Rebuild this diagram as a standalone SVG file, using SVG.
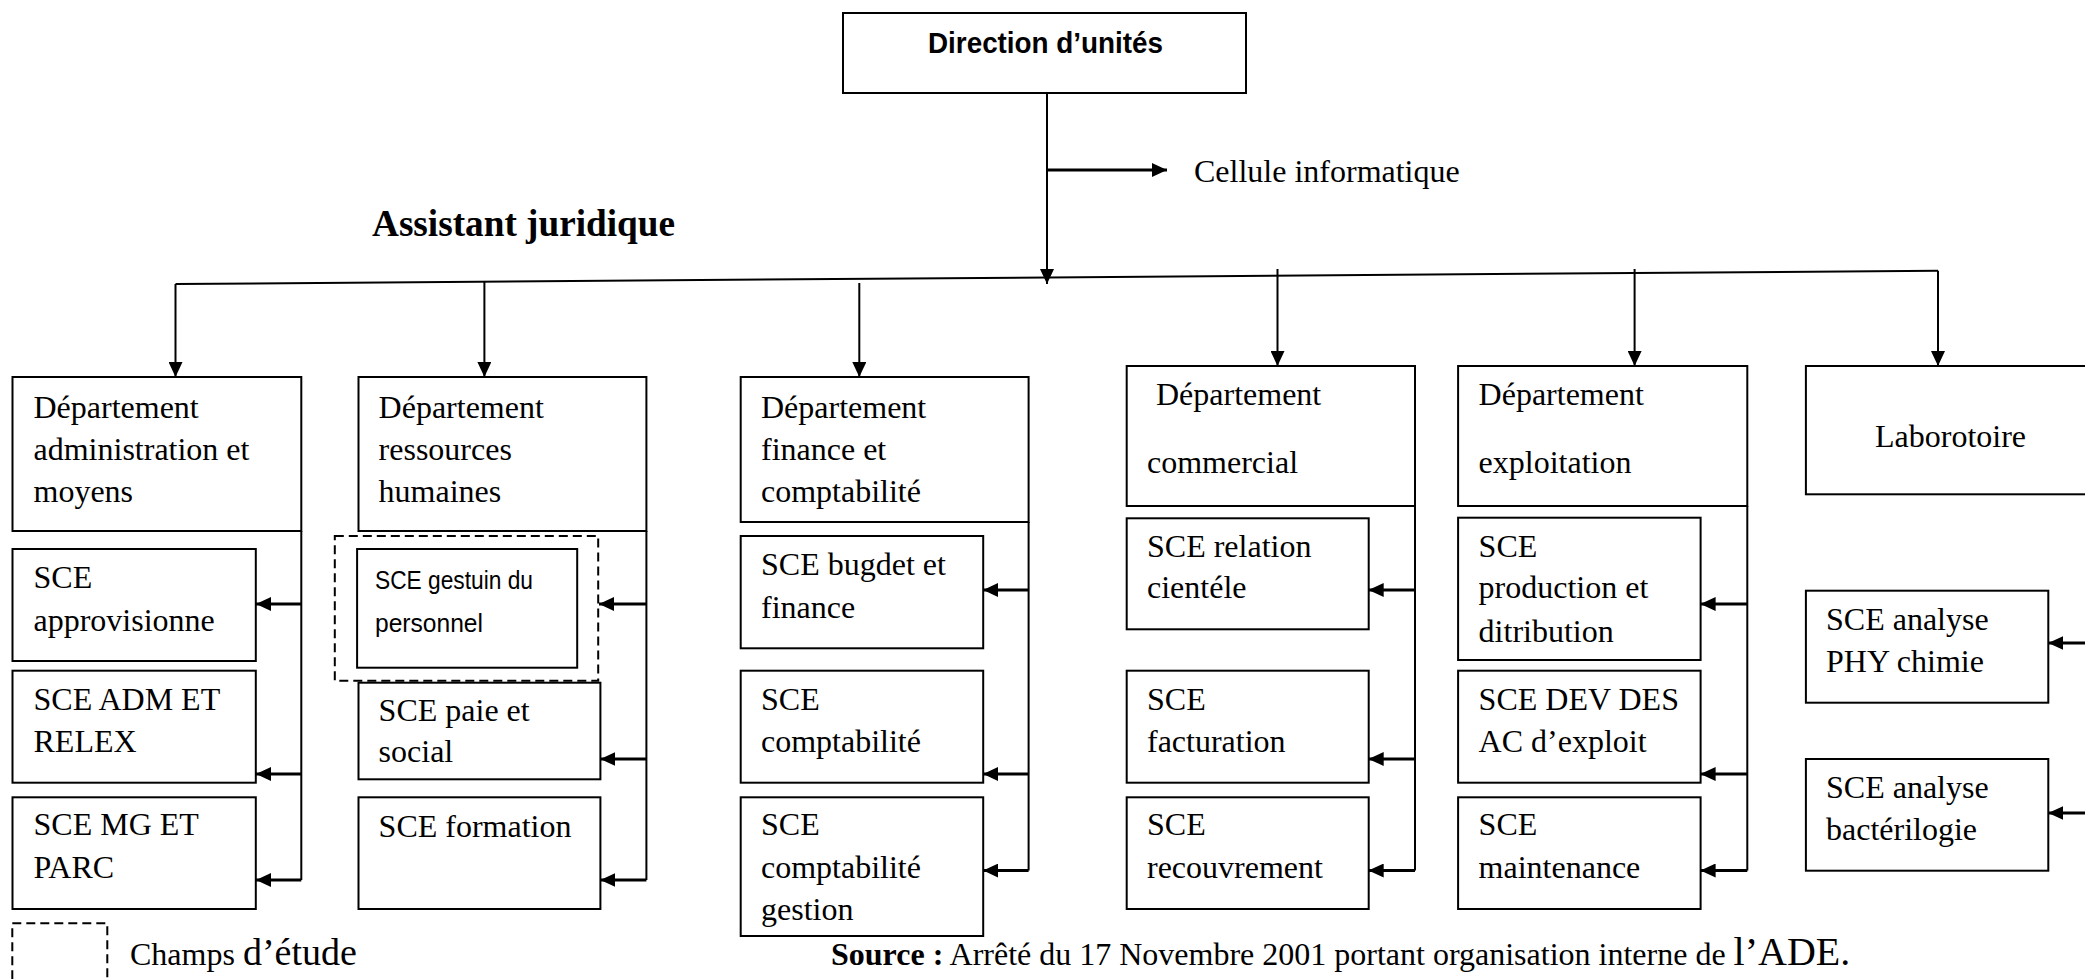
<svg xmlns="http://www.w3.org/2000/svg" width="2085" height="979" viewBox="0 0 2085 979">
<style>
  .box { fill: #ffffff; stroke: #000000; stroke-width: 2; }
  .dash { fill: none; stroke: #000000; stroke-width: 2; stroke-dasharray: 9 5; }
  .ln { fill: none; stroke: #000000; stroke-width: 2; }
  .stub { fill: none; stroke: #000000; stroke-width: 3; }
  .t { font-family: "Liberation Serif", "Times New Roman", serif; font-size: 32px; fill: #000000; }
  .sans { font-family: "Liberation Sans", Arial, sans-serif; font-size: 25px; fill: #000000; }
  .head { font-family: "Liberation Sans", Arial, sans-serif; font-size: 29px; font-weight: bold; fill: #000000; }
  .big { font-size: 38px; }
  .ade { font-size: 40px; }
  .b { font-weight: bold; }
</style>
<defs>
  <marker id="ah" markerUnits="userSpaceOnUse" markerWidth="15" markerHeight="14" refX="15" refY="7" orient="auto">
    <path d="M0,0 L15,7 L0,14 Z" fill="#000000"/>
  </marker>
</defs>
<rect width="2085" height="979" fill="#ffffff"/>

<g id="connectors">
  <line class="ln" x1="1047" y1="93" x2="1047" y2="284" marker-end="url(#ah)"/>
  <line class="stub" x1="1047" y1="170" x2="1167" y2="170" marker-end="url(#ah)"/>
  <line class="ln" x1="175.5" y1="284" x2="1938" y2="270.7"/>
  <line class="ln" x1="175.5" y1="284" x2="175.5" y2="377" marker-end="url(#ah)"/>
  <line class="ln" x1="484.4" y1="282" x2="484.4" y2="377" marker-end="url(#ah)"/>
  <line class="ln" x1="859.3" y1="283" x2="859.3" y2="377" marker-end="url(#ah)"/>
  <line class="ln" x1="1277.5" y1="269" x2="1277.5" y2="366" marker-end="url(#ah)"/>
  <line class="ln" x1="1634.6" y1="269" x2="1634.6" y2="366" marker-end="url(#ah)"/>
  <line class="ln" x1="1938" y1="270.7" x2="1938" y2="366" marker-end="url(#ah)"/>

  <line class="ln" x1="301.3" y1="531" x2="301.3" y2="880"/>
  <line class="stub" x1="301.3" y1="604" x2="256" y2="604" marker-end="url(#ah)"/>
  <line class="stub" x1="301.3" y1="774" x2="256" y2="774" marker-end="url(#ah)"/>
  <line class="stub" x1="301.3" y1="880" x2="256" y2="880" marker-end="url(#ah)"/>

  <line class="ln" x1="646.4" y1="531" x2="646.4" y2="880"/>
  <line class="stub" x1="646.4" y1="604" x2="599" y2="604" marker-end="url(#ah)"/>
  <line class="stub" x1="646.4" y1="759" x2="600.4" y2="759" marker-end="url(#ah)"/>
  <line class="stub" x1="646.4" y1="880" x2="600.4" y2="880" marker-end="url(#ah)"/>

  <line class="ln" x1="1028.6" y1="522" x2="1028.6" y2="870.5"/>
  <line class="stub" x1="1028.6" y1="590" x2="983.2" y2="590" marker-end="url(#ah)"/>
  <line class="stub" x1="1028.6" y1="774" x2="983.2" y2="774" marker-end="url(#ah)"/>
  <line class="stub" x1="1028.6" y1="870.5" x2="983.2" y2="870.5" marker-end="url(#ah)"/>

  <line class="ln" x1="1415" y1="506" x2="1415" y2="870.5"/>
  <line class="stub" x1="1415" y1="590" x2="1368.7" y2="590" marker-end="url(#ah)"/>
  <line class="stub" x1="1415" y1="759" x2="1368.7" y2="759" marker-end="url(#ah)"/>
  <line class="stub" x1="1415" y1="870.5" x2="1368.7" y2="870.5" marker-end="url(#ah)"/>

  <line class="ln" x1="1747.3" y1="506" x2="1747.3" y2="870.5"/>
  <line class="stub" x1="1747.3" y1="604" x2="1700.6" y2="604" marker-end="url(#ah)"/>
  <line class="stub" x1="1747.3" y1="774" x2="1700.6" y2="774" marker-end="url(#ah)"/>
  <line class="stub" x1="1747.3" y1="870.5" x2="1700.6" y2="870.5" marker-end="url(#ah)"/>

  <line class="stub" x1="2090" y1="643" x2="2048.3" y2="643" marker-end="url(#ah)"/>
  <line class="stub" x1="2090" y1="813" x2="2048.3" y2="813" marker-end="url(#ah)"/>
</g>

<g id="direction">
  <rect class="box" x="843" y="13" width="403" height="80"/>
  <text class="head" x="928" y="53" textLength="235" lengthAdjust="spacingAndGlyphs">Direction d’unités</text>
</g>
<g id="cellule">
  <text class="t" x="1194" y="182">Cellule informatique</text>
</g>
<g id="assistant">
  <text class="t b big" x="372" y="236" textLength="303" lengthAdjust="spacingAndGlyphs">Assistant juridique</text>
</g>

<g id="dep-admin">
  <rect class="box" x="12.5" y="377" width="288.8" height="154"/>
  <text class="t" x="33.5" y="418">Département</text>
  <text class="t" x="33.5" y="460">administration et</text>
  <text class="t" x="33.5" y="502">moyens</text>
</g>
<g id="sce-appro">
  <rect class="box" x="12.5" y="549" width="243.3" height="112"/>
  <text class="t" x="33.5" y="588">SCE</text>
  <text class="t" x="33.5" y="631">approvisionne</text>
</g>
<g id="sce-adm">
  <rect class="box" x="12.5" y="670.7" width="243.3" height="112"/>
  <text class="t" x="33.5" y="710">SCE ADM ET</text>
  <text class="t" x="33.5" y="752">RELEX</text>
</g>
<g id="sce-mg">
  <rect class="box" x="12.5" y="797.3" width="243.3" height="111.7"/>
  <text class="t" x="33.5" y="835">SCE MG ET</text>
  <text class="t" x="33.5" y="878">PARC</text>
</g>

<g id="dep-rh">
  <rect class="box" x="358.5" y="377" width="287.9" height="154"/>
  <text class="t" x="378.6" y="418">Département</text>
  <text class="t" x="378.6" y="460">ressources</text>
  <text class="t" x="378.6" y="502">humaines</text>
</g>
<g id="sce-gestion">
  <rect class="dash" x="334.8" y="536" width="263.4" height="144.7"/>
  <rect class="box" x="357.1" y="549" width="220.1" height="118.7"/>
  <text class="sans" x="375" y="589" textLength="158" lengthAdjust="spacingAndGlyphs">SCE gestuin du</text>
  <text class="sans" x="375" y="632" textLength="108" lengthAdjust="spacingAndGlyphs">personnel</text>
</g>
<g id="sce-paie">
  <rect class="box" x="358.5" y="682.7" width="241.9" height="96.6"/>
  <text class="t" x="378.6" y="721">SCE paie et</text>
  <text class="t" x="378.6" y="762">social</text>
</g>
<g id="sce-formation">
  <rect class="box" x="358.5" y="797.3" width="241.9" height="111.7"/>
  <text class="t" x="378.6" y="837">SCE formation</text>
</g>

<g id="dep-finance">
  <rect class="box" x="740.7" y="377" width="287.9" height="145"/>
  <text class="t" x="761" y="418">Département</text>
  <text class="t" x="761" y="460">finance et</text>
  <text class="t" x="761" y="502">comptabilité</text>
</g>
<g id="sce-budget">
  <rect class="box" x="740.7" y="536" width="242.5" height="112.3"/>
  <text class="t" x="761" y="575">SCE bugdet et</text>
  <text class="t" x="761" y="618">finance</text>
</g>
<g id="sce-compta">
  <rect class="box" x="740.7" y="670.7" width="242.5" height="112"/>
  <text class="t" x="761" y="710">SCE</text>
  <text class="t" x="761" y="752">comptabilité</text>
</g>
<g id="sce-compta-gestion">
  <rect class="box" x="740.7" y="797.3" width="242.5" height="138.7"/>
  <text class="t" x="761" y="835">SCE</text>
  <text class="t" x="761" y="878">comptabilité</text>
  <text class="t" x="761" y="920">gestion</text>
</g>

<g id="dep-commercial">
  <rect class="box" x="1126.7" y="366" width="288.3" height="140"/>
  <text class="t" x="1156" y="405">Département</text>
  <text class="t" x="1147" y="473">commercial</text>
</g>
<g id="sce-relation">
  <rect class="box" x="1126.7" y="518.3" width="242" height="111"/>
  <text class="t" x="1147" y="557">SCE relation</text>
  <text class="t" x="1147" y="598">cientéle</text>
</g>
<g id="sce-facturation">
  <rect class="box" x="1126.7" y="670.7" width="242" height="112"/>
  <text class="t" x="1147" y="710">SCE</text>
  <text class="t" x="1147" y="752">facturation</text>
</g>
<g id="sce-recouvrement">
  <rect class="box" x="1126.7" y="797.3" width="242" height="111.7"/>
  <text class="t" x="1147" y="835">SCE</text>
  <text class="t" x="1147" y="878">recouvrement</text>
</g>

<g id="dep-exploitation">
  <rect class="box" x="1458.1" y="366" width="289.2" height="140"/>
  <text class="t" x="1478.6" y="405">Département</text>
  <text class="t" x="1478.6" y="473">exploitation</text>
</g>
<g id="sce-production">
  <rect class="box" x="1458.1" y="517.7" width="242.5" height="142.3"/>
  <text class="t" x="1478.6" y="557">SCE</text>
  <text class="t" x="1478.6" y="598">production et</text>
  <text class="t" x="1478.6" y="642">ditribution</text>
</g>
<g id="sce-dev">
  <rect class="box" x="1458.1" y="670.7" width="242.5" height="112"/>
  <text class="t" x="1478.6" y="710">SCE DEV DES</text>
  <text class="t" x="1478.6" y="752">AC d’exploit</text>
</g>
<g id="sce-maintenance">
  <rect class="box" x="1458.1" y="797.3" width="242.5" height="111.7"/>
  <text class="t" x="1478.6" y="835">SCE</text>
  <text class="t" x="1478.6" y="878">maintenance</text>
</g>

<g id="laboratoire">
  <rect class="box" x="1805.9" y="366" width="290" height="128.3"/>
  <text class="t" x="1875" y="447">Laborotoire</text>
</g>
<g id="sce-phy">
  <rect class="box" x="1805.9" y="590.7" width="242.4" height="112"/>
  <text class="t" x="1826" y="630">SCE analyse</text>
  <text class="t" x="1826" y="672">PHY chimie</text>
</g>
<g id="sce-bacterio">
  <rect class="box" x="1805.9" y="759" width="242.4" height="111.7"/>
  <text class="t" x="1826" y="798">SCE analyse</text>
  <text class="t" x="1826" y="840">bactérilogie</text>
</g>

<g id="legend">
  <rect class="dash" x="12.3" y="923.3" width="95" height="80"/>
  <text class="t" x="130" y="965">Champs <tspan class="big">d’étude</tspan></text>
</g>
<g id="source">
  <text class="t" x="831" y="965"><tspan class="b">Source :</tspan> Arrêté du 17 Novembre 2001 portant organisation interne de <tspan class="ade">l’ADE.</tspan></text>
</g>
</svg>
